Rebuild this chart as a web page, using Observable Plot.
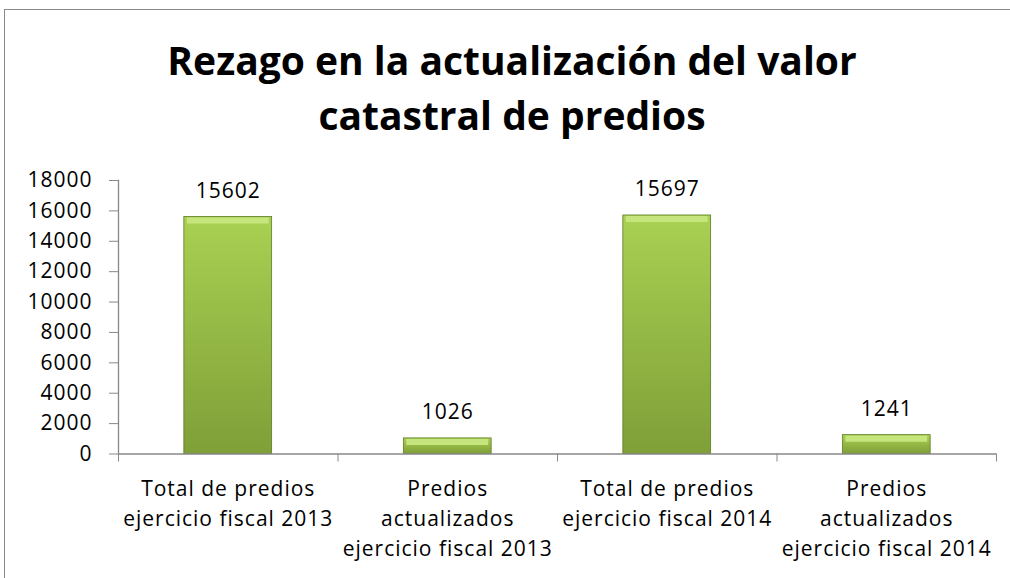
<!DOCTYPE html>
<html><head><meta charset="utf-8">
<script src="https://cdn.jsdelivr.net/npm/d3@7"></script>
<script src="https://cdn.jsdelivr.net/npm/@observablehq/plot@0.6"></script>
<style>
html,body{margin:0;padding:0;background:#fff;overflow:hidden;width:1010px;height:578px;}
#border{position:absolute;left:4px;top:9px;width:1100px;height:700px;border:1.5px solid #8a8a8a;box-sizing:border-box;}
#title{position:absolute;left:0;top:32px;width:1024px;text-align:center;font-family:"Open Sans",sans-serif;font-weight:bold;font-size:39px;line-height:55px;color:#000;}
#chart{position:absolute;left:0;top:160px;}
</style></head><body>
<div id="border"></div>
<div id="title">Rezago en la actualización del valor<br>catastral de predios</div>
<div id="chart"></div>
<script>
const categories = [
  "Total de predios\nejercicio fiscal 2013",
  "Predios\nactualizados\nejercicio fiscal 2013",
  "Total de predios\nejercicio fiscal 2014",
  "Predios\nactualizados\nejercicio fiscal 2014"
];
const values = [15602, 1026, 15697, 1241];
const yTicks = [0, 2000, 4000, 6000, 8000, 10000, 12000, 14000, 16000, 18000];
const boundaries = [0, 1, 2, 3, 4];

const data = categories.map((c, i) => ({i, category: c, value: values[i]}));
const font = "'Open Sans', sans-serif";

const plot = Plot.plot({
  width: 1010,
  height: 418,
  marginTop: 20,
  marginBottom: 124.5,
  marginLeft: 118,
  marginRight: 14,
  style: {fontFamily: font, fontSize: "21px", letterSpacing: "1px", color: "#000", background: "transparent"},
  x: {type: "linear", domain: [0, 4], axis: null},
  y: {domain: [0, 18000], axis: null},
  marks: [
    Plot.rectY(data, {x1: d => d.i + 0.3, x2: d => d.i + 0.7, y: "value", fill: "url(#barGrad)", stroke: "#5b7a26", strokeWidth: 0.8}),
    Plot.ruleY(data, {y: "value", x1: d => d.i + 0.3, x2: d => d.i + 0.7, stroke: "#c6e57d", strokeWidth: 6, dy: 3.5, insetLeft: 3, insetRight: 3}),
    Plot.frame({anchor: "left", stroke: "#888", strokeWidth: 1.3}),
    Plot.ruleY([0], {stroke: "#888", strokeWidth: 1.5}),
    Plot.axisY({ticks: yTicks, tickSize: 9, tickPadding: 17, tickFormat: d => String(d), stroke: "#888", fill: "#000", fontSize: 21, label: null}),
    Plot.axisX({ticks: boundaries, tickSize: 8, tickFormat: () => "", stroke: "#888", label: null}),
    Plot.text(data, {x: d => d.i + 0.5, frameAnchor: "bottom", text: "category", lineAnchor: "top", dy: 21, lineHeight: 1.43, fontSize: 21, fill: "#000"}),
    Plot.text(data, {x: d => d.i + 0.5, y: "value", text: d => String(d.value), dy: -26, fontSize: 21, fill: "#000"})
  ]
});

plot.insertAdjacentHTML("afterbegin",
  `<defs><linearGradient id="barGrad" x1="0" y1="0" x2="0" y2="1">
     <stop offset="0" stop-color="#a9d152"/>
     <stop offset="1" stop-color="#7f9f38"/>
   </linearGradient></defs>`);
document.getElementById("chart").appendChild(plot);
</script>
</body></html>
